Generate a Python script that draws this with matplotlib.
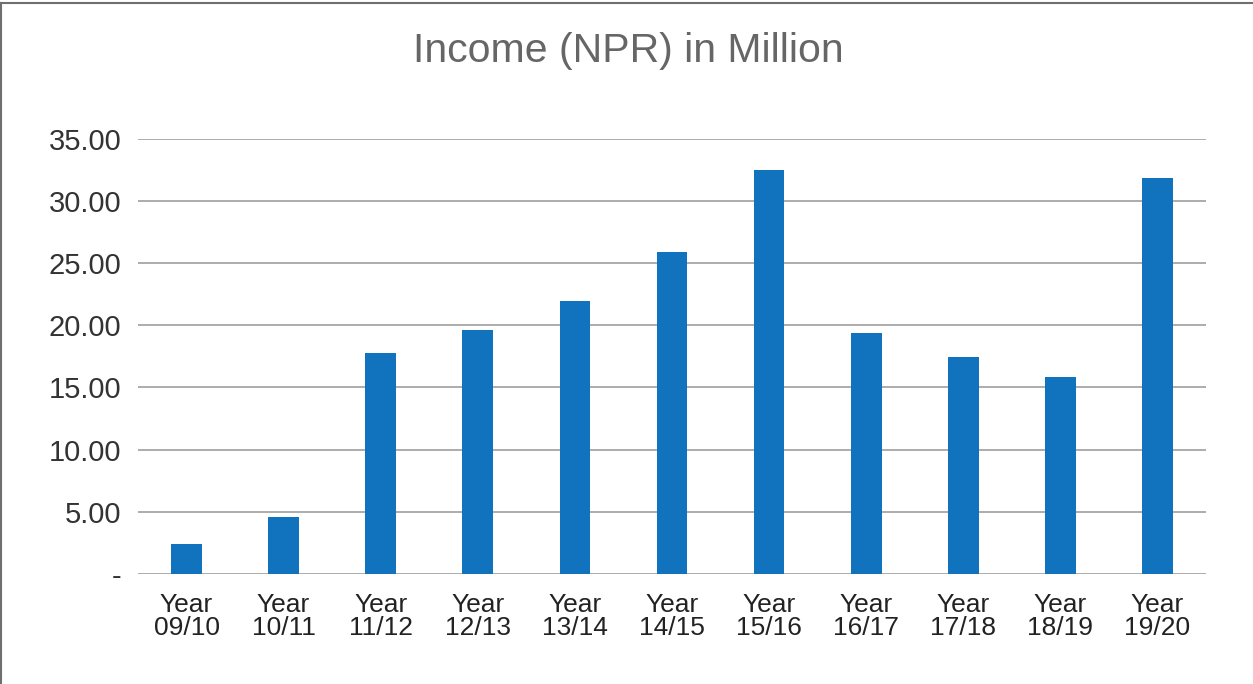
import matplotlib.pyplot as plt
import numpy as np
from matplotlib.lines import Line2D
from matplotlib.ticker import FuncFormatter

years = ["Year\n09/10", "Year\n10/11", "Year\n11/12", "Year\n12/13", "Year\n13/14", "Year\n14/15",
         "Year\n15/16", "Year\n16/17", "Year\n17/18", "Year\n18/19", "Year\n19/20"]
income = [2.41, 4.59, 17.78, 19.63, 21.96, 25.90, 32.50, 19.39, 17.46, 15.85, 31.86]

plt.rcParams['font.family'] = ['Liberation Sans', 'DejaVu Sans']

fig = plt.figure(figsize=(12.53, 6.84), dpi=100)
ax = fig.add_axes([0.1101, 0.1608, 0.8524, 0.6367])

x = np.arange(len(years))
ax.bar(x, income, width=0.316, color="#1172be", zorder=3)

ax.set_xlim(-0.5, len(years) - 0.5)
ax.set_ylim(0, 35)
ax.set_yticks(np.arange(0, 36, 5))
ax.yaxis.set_major_formatter(FuncFormatter(lambda v, p: "-" if v == 0 else f"{v:.2f}"))
ax.set_xticks(x)
ax.set_xticklabels(years, linespacing=0.92)
ax.grid(axis="y", color="#a6a6a6", linewidth=1.3, zorder=0)
for s in ax.spines.values():
    s.set_visible(False)
ax.tick_params(axis="y", length=0, labelsize=21, labelcolor="#333333", pad=12)
ax.tick_params(axis="x", length=0, labelsize=19, labelcolor="#222222", pad=14)

fig.text(0.5015, 0.925, "Income (NPR) in Million", ha="center", va="center",
         fontsize=29.5, color="#666666")

# border only on top and left, like the source
fig.lines.append(Line2D([0.001, 1.0], [0.995, 0.995], transform=fig.transFigure,
                        color="#6f6f6f", linewidth=1.5))
fig.lines.append(Line2D([0.001, 0.001], [0.0, 0.995], transform=fig.transFigure,
                        color="#6f6f6f", linewidth=1.5))

fig.savefig("out.png", dpi=100)
